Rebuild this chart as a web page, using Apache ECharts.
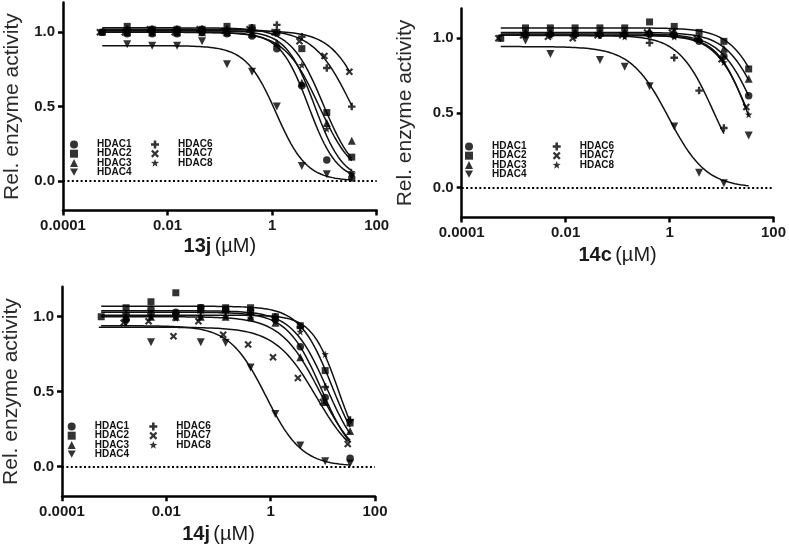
<!DOCTYPE html>
<html>
<head>
<meta charset="utf-8">
<script src="https://cdn.jsdelivr.net/npm/echarts@6/dist/echarts.min.js"></script>
<style>
html,body{margin:0;padding:0;background:#fff;}
#chart{width:789px;height:551px;}
</style>
</head>
<body>
<div id="chart"></div>
<script>
// ---------------- DATA ----------------
const compounds = ['13j', '14c', '14j'];
const hdacNames = ['HDAC1', 'HDAC2', 'HDAC3', 'HDAC4', 'HDAC6', 'HDAC7', 'HDAC8'];
// concentrations (µM), 3-fold dilutions
const conc = [0.000564, 0.00169, 0.00508, 0.0152, 0.0457, 0.137, 0.412, 1.23, 3.70, 11.1, 33.3];
// HDAC7 was measured at a slightly different series
const conc7 = [0.000508, 0.00152, 0.00457, 0.0137, 0.0412, 0.123, 0.370, 1.11, 3.33, 10.0, 30.0];

const xTickValues = [0.0001, 0.01, 1, 100];
const xTickLabels = ['0.0001', '0.01', '1', '100'];
const yTickValues = [0, 0.5, 1.0];
const yTickLabels = ['0.0', '0.5', '1.0'];

// relative enzyme activity, rows in order of hdacNames
const act13j = [
  [1.00, 0.99, 0.99, 0.99, 1.00, 0.99, 0.975, 0.89, 0.64, 0.14, 0.02],
  [1.00, 1.04, 1.02, 1.02, 1.02, 1.04, 1.03, 1.00, 0.89, 0.46, 0.16],
  [null, 1.00, 1.00, 1.00, 1.00, 1.00, 0.99, 0.93, 0.66, 0.39, 0.27],
  [null, 0.92, 0.91, 0.91, 0.94, 0.785, 0.735, 0.50, 0.10, 0.045, 0.03],
  [null, 1.02, 1.02, 1.02, 1.02, 1.02, 1.03, 1.05, 0.97, 0.76, 0.50],
  [1.00, 1.00, 1.02, 1.00, 1.02, 1.01, 1.02, 1.00, 0.94, 0.84, 0.735],
  [null, 1.01, 1.00, 1.01, 1.02, 1.00, 1.00, 0.99, 0.78, 0.35, 0.06]
];
const act14c = [
  [null, 1.03, 1.03, 1.03, 1.03, 1.03, 1.03, 1.02, 0.98, 0.88, 0.615],
  [1.00, 1.07, 1.07, 1.07, 1.07, 1.07, 1.11, 1.08, 1.04, 0.98, 0.795],
  [null, 1.04, 1.04, 1.04, 1.04, 1.04, 1.05, 1.05, 1.00, 0.93, 0.73],
  [null, 0.985, 0.895, null, 0.855, 0.81, 0.68, 0.41, 0.10, 0.03, 0.35],
  [null, 1.03, 1.03, 1.02, 1.02, 1.02, 0.97, 0.87, 0.65, 0.40, null],
  [1.00, 1.02, 1.01, 1.00, 1.02, 1.02, 1.04, 1.04, 1.00, 0.86, 0.54],
  [null, 1.02, 1.02, 1.02, 1.02, 1.01, 1.02, 1.01, 0.99, 0.84, 0.49]
];
const act14j = [
  [null, 0.98, 1.05, 1.03, 1.06, 1.05, 1.04, 0.98, 0.80, 0.46, 0.055],
  [1.00, 1.06, 1.10, 1.16, 1.06, 1.06, 1.06, 1.00, 0.94, 0.64, 0.29],
  [null, 1.00, 1.00, 1.00, 1.00, 1.00, 1.00, 0.96, 0.73, 0.43, 0.236],
  [null, 0.96, 0.83, null, 0.83, 0.826, 0.66, 0.35, 0.14, 0.035, 0.02],
  [null, 1.02, 1.02, 1.02, 1.03, 1.03, 1.02, 1.00, 0.93, 0.53, 0.31],
  [null, 0.96, 0.97, 0.87, 0.97, 0.88, 0.815, 0.73, 0.59, 0.43, 0.15],
  [null, 1.00, 1.00, 0.99, 1.00, 1.00, 0.99, 0.97, 0.90, 0.75, 0.31]
];

// fitted dose-response curve parameters
const fitTop13j  = [1.00, 1.03, 1.00, 0.91, 1.02, 1.01, 1.01];
const fitIC50_13j = [5.0, 9.5, 8.0, 1.2, 33, 65, 6.5];
const fitHill13j = [1.6, 1.4, 1.3, 1.5, 1.2, 1.3, 1.6];

const fitTop14c  = [1.03, 1.07, 1.04, 0.945, 1.02, 1.02, 1.02];
const fitIC50_14c = [45, 78, 62, 0.95, 7, 32, 31];
const fitHill14c = [1.3, 1.3, 1.3, 1.2, 1.3, 1.4, 1.5];

const fitTop14j  = [1.03, 1.07, 1.00, 0.94, 1.04, 0.93, 1.01];
const fitIC50_14j = [9.4, 15, 8.7, 0.81, 12, 7.5, 20];
const fitHill14j = [1.33, 1.4, 1.16, 1.26, 1.3, 1.1, 1.7];

// ---------------- STYLE / LAYOUT ----------------
const FONT = '"Liberation Sans", Arial, Helvetica, sans-serif';
const INV_TRI = 'path://M0,0L10,0L5,9Z';
const PLUS = 'path://M3.4,0H6.6V3.4H10V6.6H6.6V10H3.4V6.6H0V3.4H3.4Z';
const CROSS = 'path://M2,0L5,3L8,0L10,2L7,5L10,8L8,10L5,7L2,10L0,8L3,5L0,2Z';
const STAR = 'path://M5,0L6.23,3.3L9.76,3.46L7,5.65L7.94,9.05L5,7.1L2.06,9.05L3,5.65L0.24,3.46L3.77,3.3Z';
const symbols = ['circle', 'rect', 'triangle', INV_TRI, PLUS, CROSS, STAR];
const symbolSizes = [7.5, 7, 8, 8, 7.5, 7.5, 7.5];

const panels = [
  { act: act13j, top: fitTop13j, ic50: fitIC50_13j, hill: fitHill13j,
    grid: { left: 63, top: 2.6, width: 313.7, height: 208 }, yGap: 40, xGap: 26,
    leg1: { left: 70, top: 139.5 }, leg2: { left: 151, top: 139.5 } },
  { act: act14c, top: fitTop14c, ic50: fitIC50_14c, hill: fitHill14c,
    grid: { left: 461.7, top: 8.5, width: 314, height: 209 }, yGap: 46, xGap: 28,
    leg1: { left: 465, top: 141.5 }, leg2: { left: 552.7, top: 141.5 } },
  { act: act14j, top: fitTop14j, ic50: fitIC50_14j, hill: fitHill14j,
    grid: { left: 61.7, top: 286.8, width: 313.3, height: 209.5 }, yGap: 40, xGap: 28,
    leg1: { left: 67.7, top: 421.5 }, leg2: { left: 149.3, top: 421.5 } }
];

function xLabel(v) {
  for (let i = 0; i < xTickValues.length; i++) {
    if (Math.abs(Math.log10(v) - Math.log10(xTickValues[i])) < 0.01) return xTickLabels[i];
  }
  return '';
}
function yLabel(v) {
  for (let i = 0; i < yTickValues.length; i++) {
    if (Math.abs(v - yTickValues[i]) < 1e-6) return yTickLabels[i];
  }
  return '';
}

const grids = [], xAxes = [], yAxes = [], series = [], legends = [];

panels.forEach((p, pi) => {
  grids.push(Object.assign({ containLabel: false }, p.grid));
  xAxes.push({
    gridIndex: pi, type: 'log', logBase: 10, min: 0.0001, max: 100, interval: 2,
    name: '{b|' + compounds[pi] + '} {n|(µM)}', nameLocation: 'middle', nameGap: p.xGap,
    nameTextStyle: { rich: {
      b: { fontFamily: FONT, fontWeight: 'bold', fontSize: 20, color: '#1a1a1a' },
      n: { fontFamily: FONT, fontSize: 20, color: '#1a1a1a' } } },
    axisLine: { show: true, onZero: false, lineStyle: { color: '#000', width: 2.5 } },
    axisTick: { show: true, length: 5, lineStyle: { color: '#000', width: 2.5 } },
    minorTick: { show: false },
    axisLabel: { margin: 8, fontFamily: FONT, fontWeight: 'bold', fontSize: 15, color: '#1a1a1a',
      formatter: xLabel, showMinLabel: true, showMaxLabel: true },
    splitLine: { show: false }
  });
  yAxes.push({
    gridIndex: pi, type: 'value', min: -0.2, max: 1.2,
    name: 'Rel. enzyme activity', nameLocation: 'middle', nameGap: p.yGap, nameRotate: 90,
    nameTextStyle: { fontFamily: FONT, fontSize: 21, color: '#2a2a2a' },
    axisLine: { show: true, onZero: false, lineStyle: { color: '#000', width: 2.5 } },
    axisTick: { show: true, length: 5, customValues: yTickValues, lineStyle: { color: '#000', width: 2.5 } },
    axisLabel: { margin: 8, fontFamily: FONT, fontWeight: 'bold', fontSize: 15, color: '#1a1a1a',
      customValues: yTickValues, formatter: yLabel },
    splitLine: { show: false }
  });

  hdacNames.forEach((name, si) => {
    const xs = si === 5 ? conc7 : conc;
    const ys = p.act[si];
    const pts = [];
    let last = 0;
    ys.forEach((y, k) => { if (y !== null) { pts.push([xs[k], y]); last = k; } });
    // fitted curve drawn over the measured range
    const lo = Math.log10(xs[0]), hi = Math.log10(xs[last]);
    const curve = [];
    const N = 90;
    for (let j = 0; j <= N; j++) {
      const x = Math.pow(10, lo + (hi - lo) * j / N);
      curve.push([x, p.top[si] / (1 + Math.pow(x / p.ic50[si], p.hill[si]))]);
    }
    const lineSeries = {
      type: 'line', name: 'fit ' + name, xAxisIndex: pi, yAxisIndex: pi,
      data: curve, showSymbol: false, symbol: 'none', smooth: false, z: 2,
      lineStyle: { color: '#111', width: 1.5 }, silent: true
    };
    if (si === 0) {
      lineSeries.markLine = {
        silent: true, symbol: ['none', 'none'], label: { show: false },
        lineStyle: { color: '#000', width: 2, type: [2, 2.4] },
        data: [{ yAxis: 0 }]
      };
    }
    series.push(lineSeries);
    series.push({
      type: 'scatter', name: name, xAxisIndex: pi, yAxisIndex: pi,
      data: pts, symbol: symbols[si], symbolSize: symbolSizes[si], z: 4,
      itemStyle: { color: '#000' }
    });
  });

  const legBase = {
    orient: 'vertical', padding: 0, itemGap: -0.8, itemWidth: 8, itemHeight: 8,
    selectedMode: false,
    textStyle: { fontFamily: FONT, fontWeight: 'bold', fontSize: 10, color: '#111', lineHeight: 9, padding: [0, 0, 0, 14] },
    itemStyle: { color: '#000' }
  };
  legends.push(Object.assign({}, legBase, p.leg1, {
    data: [0, 1, 2, 3].map(i => ({ name: hdacNames[i], icon: symbols[i] }))
  }));
  legends.push(Object.assign({}, legBase, p.leg2, {
    data: [4, 5, 6].map(i => ({ name: hdacNames[i], icon: symbols[i] }))
  }));
});

const chart = echarts.init(document.getElementById('chart'), null, { renderer: 'canvas' });
chart.setOption({
  backgroundColor: '#fff',
  animation: false,
  grid: grids, xAxis: xAxes, yAxis: yAxes, legend: legends, series: series
});
</script>
</body>
</html>
